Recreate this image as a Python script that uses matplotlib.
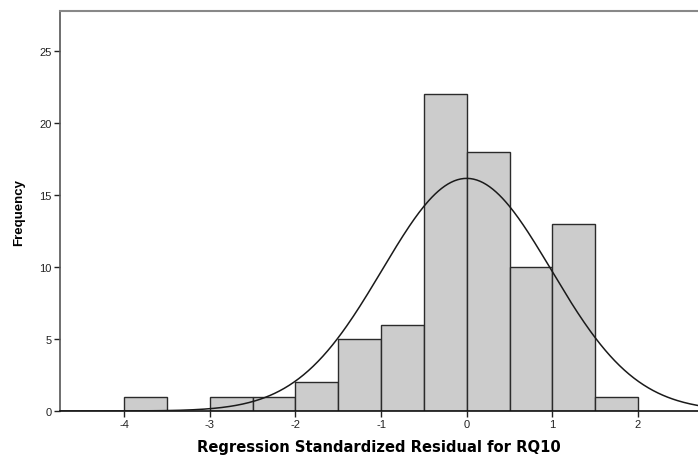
import numpy as np
import matplotlib
matplotlib.use("Agg")
import matplotlib.pyplot as plt

bin_edges = [-4.0, -3.5, -3.0, -2.5, -2.0, -1.5, -1.0, -0.5, 0.0, 0.5, 1.0, 1.5, 2.0]
counts = [1, 0, 1, 1, 2, 5, 6, 22, 18, 10, 13, 1]
x_ticks = [-4, -3, -2, -1, 0, 1, 2]
y_ticks = [0, 5, 10, 15, 20, 25]
mean_resid = 0.0
sd_resid = 0.987
n_obs = 80
bin_width = 0.5

plt.rcParams['font.family'] = ['Liberation Sans', 'DejaVu Sans']

fig = plt.figure(figsize=(6.98, 4.56), dpi=100)
ax = fig.add_axes([60/698, 1-412/456, 1-60/698, (412-12.3)/456])

lefts = bin_edges[:-1]
for l, c in zip(lefts, counts):
    if c > 0:
        ax.bar(l, c, width=bin_width, align='edge', color='#cccccc',
               edgecolor='#2b2b2b', linewidth=1.0, zorder=2)

xs = np.linspace(-4.75, 2.72, 400)
ys = n_obs * bin_width / (sd_resid * np.sqrt(2*np.pi)) * np.exp(-0.5*((xs-mean_resid)/sd_resid)**2)
ax.plot(xs, ys, color='#1a1a1a', linewidth=1.1, zorder=3)

ax.set_xlim(-4.747, 2.70)
ax.set_ylim(0, 27.78)
ax.set_xticks(x_ticks)
ax.set_xticklabels([str(t) for t in x_ticks])
ax.set_yticks(y_ticks)
ax.set_yticklabels([str(t) for t in y_ticks])
ax.tick_params(axis='both', direction='out', length=4, width=1, colors='#222222',
               labelsize=8, pad=2)
ax.spines['right'].set_visible(False)
ax.spines['top'].set_color('#888888')
ax.spines['top'].set_linewidth(1.5)
ax.spines['left'].set_color('#555555')
ax.spines['bottom'].set_color('#111111')
ax.spines['left'].set_linewidth(1.2)
ax.spines['bottom'].set_linewidth(1.2)

ax.set_xlabel('Regression Standardized Residual for RQ10', fontsize=10.6, fontweight='bold',
              family='DejaVu Sans', labelpad=7)
ax.set_ylabel('Frequency', fontsize=9.5, fontweight='bold', labelpad=10)

fig.savefig('out.png', dpi=100)
